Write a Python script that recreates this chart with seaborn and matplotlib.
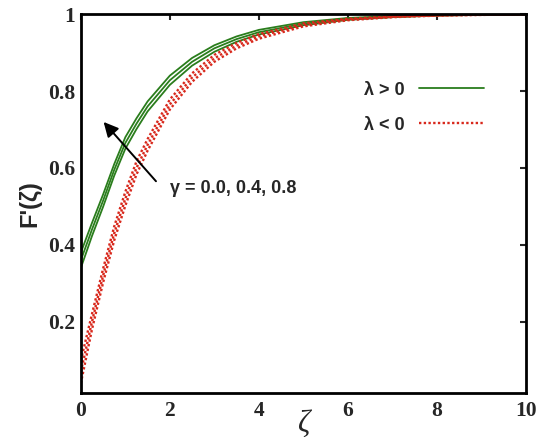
import numpy as np
import pandas as pd
import matplotlib
matplotlib.use("Agg")
import matplotlib.pyplot as plt
import seaborn as sns

# similarity variable
zeta = [0, 0.25, 0.5, 0.75, 1, 1.25, 1.5, 2, 2.5, 3, 3.5, 4, 5, 6, 7, 8, 9, 10]

# lambda > 0, gamma = 0.0, 0.4, 0.8
pos_g00 = [0.340, 0.423, 0.499, 0.580, 0.650, 0.701, 0.747, 0.816, 0.866, 0.902, 0.928, 0.947, 0.971, 0.985, 0.992, 0.996, 0.998, 0.999]
pos_g04 = [0.360, 0.440, 0.515, 0.595, 0.665, 0.715, 0.760, 0.828, 0.876, 0.911, 0.935, 0.953, 0.975, 0.987, 0.993, 0.997, 0.998, 0.999]
pos_g08 = [0.380, 0.457, 0.531, 0.610, 0.680, 0.729, 0.773, 0.840, 0.886, 0.919, 0.942, 0.959, 0.979, 0.990, 0.995, 0.998, 0.999, 1.000]

# lambda < 0, gamma = 0.0, 0.4, 0.8
neg_g00 = [0.040, 0.180, 0.302, 0.412, 0.502, 0.583, 0.645, 0.752, 0.824, 0.876, 0.911, 0.936, 0.968, 0.984, 0.992, 0.996, 0.998, 0.999]
neg_g04 = [0.070, 0.200, 0.320, 0.430, 0.520, 0.600, 0.660, 0.765, 0.835, 0.885, 0.918, 0.942, 0.972, 0.986, 0.993, 0.997, 0.998, 0.999]
neg_g08 = [0.100, 0.220, 0.338, 0.448, 0.538, 0.617, 0.675, 0.778, 0.846, 0.894, 0.925, 0.948, 0.976, 0.988, 0.994, 0.997, 0.999, 1.000]

gammas = ["0.0", "0.4", "0.8"]
pos_curves = [pos_g00, pos_g04, pos_g08]
neg_curves = [neg_g00, neg_g04, neg_g08]

green = "#2a7d1c"
red = "#d8281c"
serif = ["Liberation Serif", "DejaVu Serif"]
sans = ["Liberation Sans", "DejaVu Sans"]

sns.set_style("white")
plt.rcParams["font.family"] = serif

fig = plt.figure(figsize=(5.5, 4.41), dpi=100)
ax = fig.add_axes([0.147, 0.109, 0.809, 0.859])

for i, (g, vals) in enumerate(zip(gammas, pos_curves)):
    d = pd.DataFrame({"zeta": zeta, "F": vals})
    sns.lineplot(data=d, x="zeta", y="F", ax=ax, color=green, lw=1.3,
                 label="\u03bb > 0" if i == 0 else None)
for i, (g, vals) in enumerate(zip(gammas, neg_curves)):
    d = pd.DataFrame({"zeta": zeta, "F": vals})
    sns.lineplot(data=d, x="zeta", y="F", ax=ax, color=red, lw=1.7,
                 linestyle=(0, (1, 1)), label="\u03bb < 0" if i == 0 else None)

ax.set_xlim(0, 10)
ax.set_ylim(0.015, 1.0)
ax.set_xticks([0, 2, 4, 6, 8, 10])
ax.set_yticks([0.2, 0.4, 0.6, 0.8, 1.0])
ax.set_yticklabels(["0.2", "0.4", "0.6", "0.8", "1"])
ax.tick_params(direction="in", length=4, width=1.5, top=True, right=True,
               labelsize=15.5, pad=4)
ax.tick_params(axis="x", pad=6)
for lab in ax.get_xticklabels() + ax.get_yticklabels():
    lab.set_fontweight("bold")
    lab.set_fontfamily(serif)
for s in ax.spines.values():
    s.set_linewidth(2)
    s.set_color("black")

ax.set_xlabel("\u03b6", fontsize=22, style="italic", family=serif, labelpad=-8)
ax.set_ylabel("F'(\u03b6)", fontsize=17, fontweight="bold",
              family=sans, labelpad=5)

# arrow showing increasing gamma
ax.annotate("", xy=(0.47, 0.725), xytext=(1.73, 0.56),
            arrowprops=dict(arrowstyle="-|>", color="black", lw=1.4,
                            mutation_scale=22))
ax.text(2.0, 0.547, "\u03b3 = 0.0, 0.4, 0.8", fontsize=13, fontweight="bold",
        family=sans, va="center", ha="left")

leg = ax.legend(loc="upper left", bbox_to_anchor=(0.6, 0.865), frameon=False,
                markerfirst=False, handlelength=3.6, handletextpad=0.8,
                labelspacing=1.0,
                prop={"family": sans, "weight": "bold", "size": 13})

fig.savefig("out.png", dpi=100)
